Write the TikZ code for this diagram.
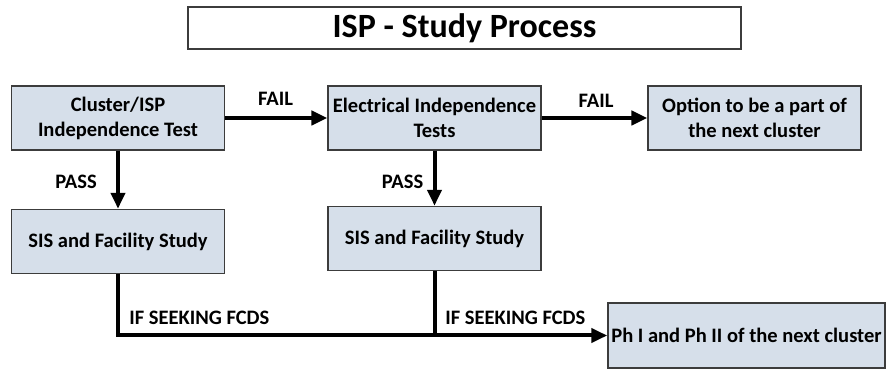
\documentclass[tikz,border=0pt]{standalone}
\usepackage{fontspec}
\setmainfont{Carlito}
\usetikzlibrary{arrows.meta}
\definecolor{boxfill}{RGB}{214,223,234}
\definecolor{boxline}{RGB}{60,60,60}

\begin{document}
\begin{tikzpicture}[x=0.75pt,y=-0.75pt,
    stage/.style={draw=boxline,fill=boxfill,line width=1.1pt,align=center,inner sep=0pt,
        minimum width=159.5pt,minimum height=48pt,font=\bfseries\fontsize{15.4}{18.75}\selectfont},
    lbl/.style={inner sep=0pt,font=\bfseries\fontsize{15.4}{18.75}\selectfont},
    flow/.style={line width=3pt,-{Triangle[length=12pt,width=10.5pt]}}]
    \useasboundingbox (0,0) rectangle (886,370);
    \node[draw=boxline,line width=1.1pt,minimum width=414.75pt,minimum height=31.5pt,inner sep=0pt,
        font=\bfseries\fontsize{25.5}{30}\selectfont] (title) at (464.5,28) {ISP - Study Process};
    \node[stage] (isptest) at (118,118) {Cluster/ISP\\Independence Test};
    \node[stage] (sis1) at (118,241.5) {SIS and Facility Study};
    \node[stage] (eltest) at (434.5,118) {Electrical Independence\\Tests};
    \node[stage] (sis2) at (434.5,238.5) {SIS and Facility Study};
    \node[stage] (option) at (754.5,118) {Option to be a part of\\the next cluster};
    \node[stage,minimum width=207.75pt,minimum height=48.75pt] (phase) at (746.5,335.5) {Ph I and Ph II of the next cluster};
    \draw[flow] (isptest) -- (eltest);
    \draw[flow] (eltest) -- (option);
    \draw[flow] (isptest) -- (sis1);
    \draw[flow] (eltest) -- (sis2);
    \draw[flow] (sis1) |- (phase);
    \draw[line width=3pt] (sis2) -- (sis2 |- phase);
    \node[lbl] (fail1) at (275.5,99) {FAIL};
    \node[lbl] (fail2) at (596,101) {FAIL};
    \node[lbl] (pass1) at (76,182) {PASS};
    \node[lbl] (pass2) at (402.5,182) {PASS};
    \node[lbl,anchor=west] (seek1) at (129,318) {IF SEEKING FCDS};
    \node[lbl,anchor=west] (seek2) at (445,318) {IF SEEKING FCDS};
\end{tikzpicture}
\end{document}
